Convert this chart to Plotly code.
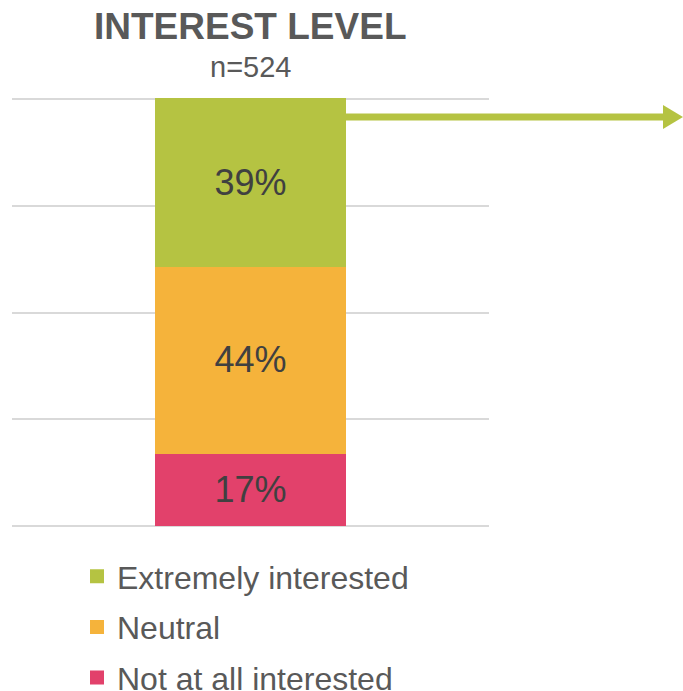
import plotly.graph_objects as go

categories = ["Interest level"]
series_names = ["Not at all interested", "Neutral", "Extremely interested"]
series_values = [[17], [44], [39]]
series_colors = ["#E2416B", "#F5B33B", "#B5C342"]
legend_ranks = [3, 2, 1]
y_ticks = [0, 25, 50, 75, 100]
title_text = "INTEREST LEVEL"
subtitle_text = "n=524"

FONT = "Arial, Liberation Sans, sans-serif"

fig = go.Figure()
for i, (name, vals, col, rk) in enumerate(zip(series_names, series_values, series_colors, legend_ranks)):
    fig.add_trace(go.Bar(
        x=categories, y=vals, name=name,
        marker=dict(color=col, line=dict(width=2, color=col)),
        width=0.398,
        texttemplate="%{y}%", textposition="inside", insidetextanchor="middle",
        textangle=0,
        textfont=dict(family=FONT, size=36, color="#404040"),
        legendgroup=str(i), legendrank=rk,
    ))

# W = 683; plot area 12..489 px horizontally, y=0 at 526 px, y=100 at 99 px
Y_MAX = 100.47

def px_x(p):
    return (p - 12) / 477.0

def px_y(p):
    # paper coords relative to plot area from 97 px (top) to 526 px (bottom)
    return (526 - p) / 429.0

green = series_colors[2]
fig.add_shape(type="line", xref="paper", yref="paper",
              x0=px_x(346), x1=px_x(664), y0=px_y(117), y1=px_y(117),
              line=dict(color=green, width=7))
fig.add_shape(type="path", xref="paper", yref="paper",
              path=f"M {px_x(663)} {px_y(105)} L {px_x(683)} {px_y(117)} L {px_x(663)} {px_y(129)} Z",
              fillcolor=green, line=dict(width=0))

fig.add_annotation(text=f"<b>{title_text}</b>", xref="paper", yref="paper",
                   x=px_x(250), y=px_y(27), xanchor="center", yanchor="middle",
                   showarrow=False, font=dict(family=FONT, size=37, color="#595959"))
fig.add_annotation(text=subtitle_text, xref="paper", yref="paper",
                   x=px_x(250), y=px_y(67), xanchor="center", yanchor="middle",
                   showarrow=False, font=dict(family=FONT, size=29, color="#595959"))

fig.update_layout(
    width=683, height=691,
    margin=dict(l=12, r=194, t=97, b=165, autoexpand=False),
    barmode="stack",
    plot_bgcolor="white", paper_bgcolor="white",
    showlegend=True,
    legend=dict(
        xref="container", yref="container",
        x=77 / 683, y=1 - 549 / 691, xanchor="left", yanchor="top",
        traceorder="grouped", tracegroupgap=6,
        font=dict(family=FONT, size=32, color="#595959"),
        bgcolor="rgba(0,0,0,0)",
    ),
    xaxis=dict(showticklabels=False, showgrid=False, zeroline=False, showline=False,
               range=[-0.5, 0.5], fixedrange=True),
    yaxis=dict(range=[0, Y_MAX], tickvals=y_ticks, showticklabels=False,
               showgrid=True, gridcolor="#D9D9D9", gridwidth=2,
               zeroline=True, zerolinecolor="#D9D9D9", zerolinewidth=2,
               showline=False),
)

fig.write_html("out.html")
